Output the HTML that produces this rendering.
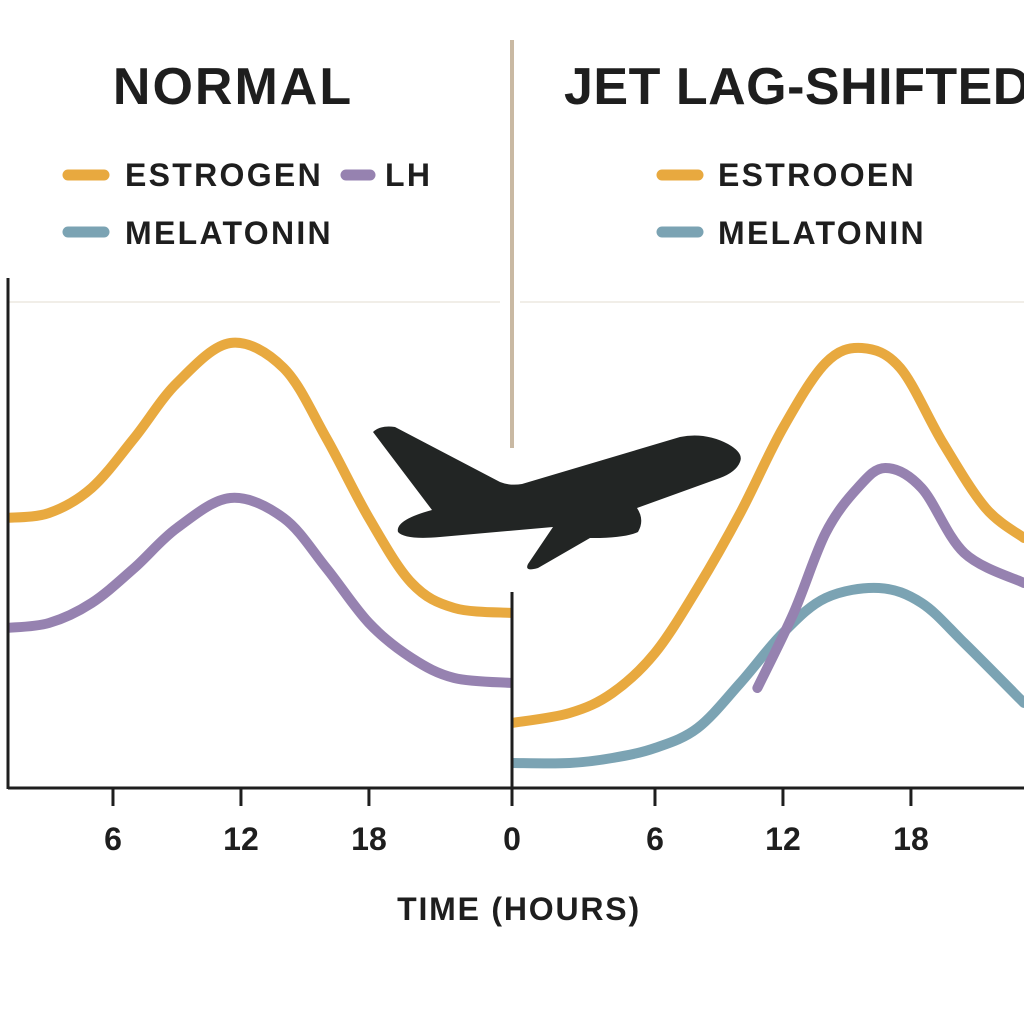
<!DOCTYPE html>
<html><head><meta charset="utf-8"><style>
body{margin:0;background:#fff}
svg{display:block;font-family:"Liberation Sans","DejaVu Sans",sans-serif;font-weight:bold}
</style></head><body>
<svg id="c" width="1024" height="1024" viewBox="0 0 1024 1024">
<defs>
<clipPath id="clipL"><rect x="8" y="250" width="504" height="540"/></clipPath>
<clipPath id="clipR"><rect x="512" y="250" width="512" height="540"/></clipPath>
</defs>
<line x1="8" y1="302" x2="500" y2="302" stroke="#f1eee8" stroke-width="2"/>
<line x1="520" y1="302" x2="1024" y2="302" stroke="#f1eee8" stroke-width="2"/>
<line x1="512" y1="40" x2="512" y2="448" stroke="#c9b9a3" stroke-width="4"/>
<text x="233" y="104" font-size="52" letter-spacing="2" text-anchor="middle" fill="#1e1e1e">NORMAL</text>
<text x="564" y="104" font-size="52" letter-spacing="0.5" fill="#1e1e1e">JET LAG-SHIFTED</text>
<g>
<line x1="68" y1="175" x2="104" y2="175" stroke="#E8A93F" stroke-width="11" stroke-linecap="round"/>
<text x="125" y="186" font-size="32" letter-spacing="2.3" fill="#1e1e1e">ESTROGEN</text>
<line x1="346" y1="175" x2="370" y2="175" stroke="#9682B0" stroke-width="11" stroke-linecap="round"/>
<text x="385" y="186" font-size="32" letter-spacing="2.3" fill="#1e1e1e">LH</text>
<line x1="68" y1="232" x2="104" y2="232" stroke="#7BA3B3" stroke-width="11" stroke-linecap="round"/>
<text x="125" y="244" font-size="32" letter-spacing="2.3" fill="#1e1e1e">MELATONIN</text>
</g>
<g>
<line x1="662" y1="175" x2="698" y2="175" stroke="#E8A93F" stroke-width="11" stroke-linecap="round"/>
<text x="718" y="186" font-size="32" letter-spacing="2.3" fill="#1e1e1e">ESTROOEN</text>
<line x1="662" y1="232" x2="698" y2="232" stroke="#7BA3B3" stroke-width="11" stroke-linecap="round"/>
<text x="718" y="244" font-size="32" letter-spacing="2.3" fill="#1e1e1e">MELATONIN</text>
</g>
<g id="series"></g>
<line x1="8" y1="278" x2="8" y2="789" stroke="#1e1e1e" stroke-width="3"/>
<line x1="512" y1="592" x2="512" y2="789" stroke="#1e1e1e" stroke-width="3"/>
<line x1="8" y1="788" x2="1024" y2="788" stroke="#1e1e1e" stroke-width="3"/>
<g id="ticks"></g>
<text x="519" y="920" font-size="32" letter-spacing="1.8" text-anchor="middle" fill="#1e1e1e">TIME (HOURS)</text>
<path d="M373,432 Q380,425 395,427 L500,482 Q510,486 522,484 L680,437 Q705,432 728,444 Q744,453 740,462 Q736,472 720,478 L637,508 Q645,520 638,532 Q628,537 600,538 L590,538 L538,568 Q524,572 528,564 L553,527 L440,537 Q405,540 398,532 Q395,520 432,510 Z" fill="#222524"/>
</svg>
<script>
const leftHours=[1,3,5,7,9,11.5,14,16,18,20,22,24.7];
const leftEstrogen=[54,55,60,70,81,89,84,70,54,41,36,35];
const leftLH=[32,33,37,44,52,58,54,44,33,26,22,21];
const rightEstHours=[-0.7,2,4,6,8,10,12,14,15.7,17.5,19.5,21.5,23.3];
const rightEstrogen=[13,15,19,27,40,55,72,85,88,84,69,56,50];
const rightLHHours=[10.8,12.5,14,15.5,16.8,18.5,20.5,23.3];
const rightLH=[20,35,51,60,64,60,47,41];
const rightMelHours=[-0.7,2,4,6,8,10,12,14,16.5,18.5,20.5,23.3];
const rightMelatonin=[5,5,6,8,12,21,31,38,40,37,29,17];
const tickHoursLeft=[6,12,18];
const tickHoursRight=[0,6,12,18];
const tickLabelsLeft=["6","12","18"];
const tickLabelsRight=["0","6","12","18"];

const xL=h=>-15+h*21.33;
const xR=h=>527+h*21.33;
const y=v=>788-v*5;
const NS="http://www.w3.org/2000/svg";
function smooth(pts){
  let d="M"+pts[0][0]+","+pts[0][1];
  for(let i=0;i<pts.length-1;i++){
    const p0=pts[i-1]||pts[i],p1=pts[i],p2=pts[i+1],p3=pts[i+2]||p2;
    const c1=[p1[0]+(p2[0]-p0[0])/6,p1[1]+(p2[1]-p0[1])/6];
    const c2=[p2[0]-(p3[0]-p1[0])/6,p2[1]-(p3[1]-p1[1])/6];
    d+=" C"+c1+" "+c2+" "+p2;
  }
  return d;
}
const g=document.getElementById("series");
function draw(hours,vals,xf,color,clip,name){
  const p=document.createElementNS(NS,"path");
  p.setAttribute("d",smooth(hours.map((h,i)=>[xf(h),y(vals[i])])));
  p.setAttribute("fill","none");p.setAttribute("stroke",color);
  p.setAttribute("stroke-width","10");p.setAttribute("stroke-linecap","round");
  p.setAttribute("clip-path","url(#"+clip+")");
  
  
  g.appendChild(p);
}
draw(leftHours,leftEstrogen,xL,"#E8A93F","clipL","line-estrogen-normal");
draw(leftHours,leftLH,xL,"#9682B0","clipL","line-lh-normal");
draw(rightMelHours,rightMelatonin,xR,"#7BA3B3","clipR","line-melatonin-shifted");
draw(rightLHHours,rightLH,xR,"#9682B0","clipR","line-lh-shifted");
draw(rightEstHours,rightEstrogen,xR,"#E8A93F","clipR","line-estrogen-shifted");
const t=document.getElementById("ticks");
function tick(x,label,name){
  const l=document.createElementNS(NS,"line");
  l.setAttribute("x1",x);l.setAttribute("x2",x);l.setAttribute("y1",788);l.setAttribute("y2",806);
  l.setAttribute("stroke","#1e1e1e");l.setAttribute("stroke-width","3");
  
  
  t.appendChild(l);
  const tx=document.createElementNS(NS,"text");
  tx.setAttribute("x",x);tx.setAttribute("y",850);tx.setAttribute("font-size","32");
  tx.setAttribute("text-anchor","middle");tx.setAttribute("fill","#1e1e1e");
  tx.textContent=label;
  
  
  t.appendChild(tx);
}
tickHoursLeft.forEach((h,i)=>tick(xL(h),tickLabelsLeft[i],"x-tick-left-"+h));
tickHoursRight.forEach((h,i)=>tick(h===0?512:xR(h),tickLabelsRight[i],"x-tick-right-"+h));
</script>
</body></html>
